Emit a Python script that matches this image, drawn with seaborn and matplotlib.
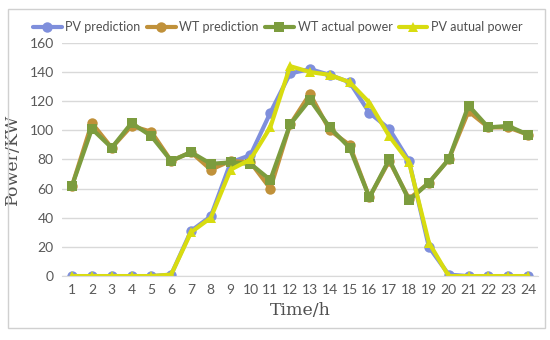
import matplotlib
matplotlib.use("Agg")
import matplotlib.pyplot as plt
import pandas as pd
import seaborn as sns
from matplotlib.patches import Rectangle

hours = list(range(1, 25))
pv_pred = [0, 0, 0, 0, 0, 1, 31, 41, 78, 83, 112, 139, 142, 138, 133, 112, 101, 79, 20, 1, 0, 0, 0, 0]
wt_pred = [62, 105, 88, 103, 99, 79, 85, 73, 79, 78, 60, 104, 125, 100, 90, 54, 79, 53, 64, 80, 113, 102, 102, 97]
wt_actual = [62, 101, 88, 105, 96, 79, 85, 77, 78, 77, 66, 104, 121, 102, 88, 54, 80, 52, 64, 80, 117, 102, 103, 97]
pv_actual = [0, 0, 0, 0, 0, 1, 30, 40, 73, 80, 102, 144, 140, 138, 133, 119, 96, 78, 23, 0, 0, 0, 0, 0]

series_names = ["PV prediction", "WT prediction", "WT actual power", "PV autual power"]
series_colors = ["#7f8fdc", "#c0913a", "#7c9c3e", "#d8dc10"]
series_markers = ["o", "o", "s", "^"]

df = pd.concat(
    [
        pd.DataFrame({"hour": hours, "power": vals, "series": name})
        for name, vals in zip(series_names, [pv_pred, wt_pred, wt_actual, pv_actual])
    ],
    ignore_index=True,
)

sns.set_style("white")
plt.rcParams["font.family"] = ["Lato", "DejaVu Sans"]

fig = plt.figure(figsize=(5.5, 3.4), dpi=100)
ax = fig.add_axes([0.113, 0.188, 0.865, 0.686])

sns.lineplot(
    data=df, x="hour", y="power", hue="series", style="series",
    hue_order=series_names, style_order=series_names,
    palette=dict(zip(series_names, series_colors)),
    markers=dict(zip(series_names, series_markers)),
    dashes=False, linewidth=3, markersize=7.5, markeredgewidth=0,
    ax=ax, legend=True,
)

ax.set_xlim(0.5, 24.5)
ax.set_ylim(0, 160)
ax.set_xticks(hours)
ax.set_yticks(range(0, 161, 20))
ax.tick_params(axis="both", labelsize=10, labelcolor="#595959", length=0, pad=6)
ax.yaxis.grid(True, color="#d9d9d9", linewidth=1)
ax.set_axisbelow(True)
for side in ["top", "right", "left"]:
    ax.spines[side].set_visible(False)
ax.spines["bottom"].set_color("#d9d9d9")

ax.set_xlabel("Time/h", family="DejaVu Serif", fontsize=12.5, color="#505050", labelpad=4)
ax.set_ylabel("Power/KW", family="DejaVu Serif", fontsize=12.5, color="#505050", labelpad=6)

handles, labels = ax.get_legend_handles_labels()
ax.legend(
    handles, labels, loc="center", bbox_to_anchor=(0.505, 0.92), bbox_transform=fig.transFigure,
    ncol=4, frameon=False, fontsize=9, handlelength=2.3, columnspacing=0.5, handletextpad=0.3,
    borderaxespad=0, borderpad=0, labelcolor="#505050",
)

fig.patches.append(Rectangle((0.015, 0.035), 0.975, 0.94, transform=fig.transFigure,
                             fill=False, edgecolor="#d0d0d0", linewidth=1))

fig.savefig("out.png", dpi=100)
plt.close(fig)
